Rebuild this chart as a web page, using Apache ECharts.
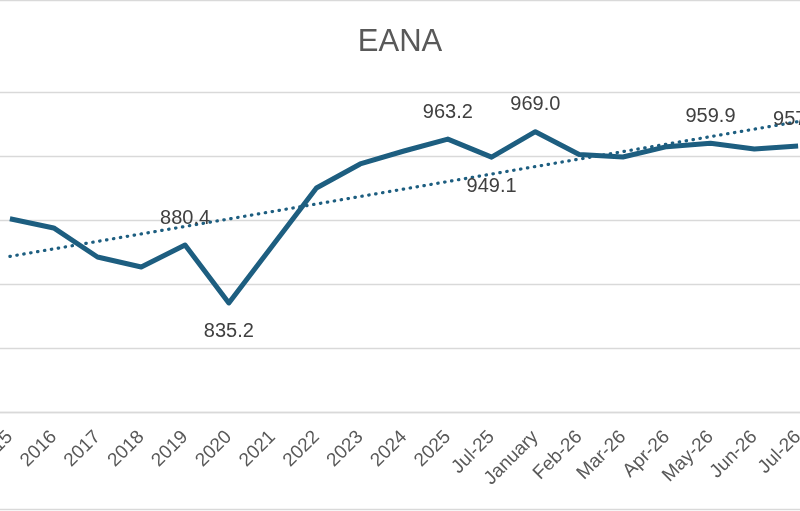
<!DOCTYPE html>
<html>
<head>
<meta charset="utf-8">
<title>EANA</title>
<script src="https://cdn.jsdelivr.net/npm/echarts@6/dist/echarts.min.js"></script>
<style>
  html, body { margin: 0; padding: 0; background: #fff; }
  #main { width: 800px; height: 511px; }
</style>
</head>
<body>
<div id="main"></div>
<script>
// categories on the x axis
var categories = ["2015", "2016", "2017", "2018", "2019", "2020", "2021", "2022", "2023", "2024",
    "2025", "Jul-25", "January", "Feb-26", "Mar-26", "Apr-26", "May-26", "Jun-26", "Jul-26"];

// EANA values
var values = [901.0, 893.8, 871.1, 863.3, 880.4, 835.2, 880.0, 925.0, 943.8, 953.9,
    963.2, 949.1, 969.0, 951.2, 949.2, 957.3, 959.9, 955.5, 957.8];

// which points get a value label, and where
var labelIndex = [4, 5, 10, 11, 12, 16, 18];
var labelPos = ["top", "bottom", "top", "bottom", "top", "top", "top"];

// y axis ticks
var yMin = 750, yMax = 1000, yStep = 50;

// linear trend, like the excel trendline
function trendOf(arr) {
    var n = arr.length, sx = 0, sy = 0, sxy = 0, sxx = 0;
    for (var i = 0; i < n; i++) {
        sx += i; sy += arr[i]; sxy += i * arr[i]; sxx += i * i;
    }
    var b = (n * sxy - sx * sy) / (n * sxx - sx * sx);
    var a = (sy - b * sx) / n;
    var out = [];
    for (var j = 0; j < n; j++) out.push(+(a + b * j).toFixed(2));
    return out;
}

var lineColor = "#1d5e80";

var seriesData = values.map(function (v, i) {
    var k = labelIndex.indexOf(i);
    if (k < 0) return v;
    return {
        value: v,
        label: {
            show: true,
            position: labelPos[k],
            distance: labelPos[k] == "top" ? 17 : 19
        }
    };
});

var chart = echarts.init(document.getElementById('main'));
chart.setOption({
    animation: false,
    title: {
        text: "EANA",
        left: "center",
        top: 22,
        textStyle: {
            fontFamily: "'Liberation Sans', Arial, sans-serif",
            fontSize: 31,
            fontWeight: "normal",
            color: "#595959"
        }
    },
    grid: { left: -12, right: -20, top: 92, bottom: 99, containLabel: false, outerBoundsMode: "none" },
    xAxis: {
        type: "category",
        data: categories,
        boundaryGap: true,
        axisLine: { lineStyle: { color: "#d9d9d9", width: 1.3 } },
        axisTick: { show: false },
        axisLabel: {
            rotate: 45,
            interval: 0,
            margin: 22,
            fontFamily: "'Liberation Sans', Arial, sans-serif",
            fontSize: 19,
            color: "#595959"
        }
    },
    yAxis: {
        type: "value",
        min: yMin,
        max: yMax,
        interval: yStep,
        axisLabel: { show: false },
        axisLine: { show: false },
        axisTick: { show: false },
        splitLine: { lineStyle: { color: "#d9d9d9", width: 1.3 } }
    },
    series: [
        {
            name: "EANA",
            type: "line",
            data: seriesData,
            symbol: "circle",
            symbolSize: 0,
            showSymbol: true,
            itemStyle: { color: lineColor },
            lineStyle: { color: lineColor, width: 5, join: "round" },
            label: {
                show: false,
                formatter: function (p) { return p.value.toFixed(1); },
                fontFamily: "'Liberation Sans', Arial, sans-serif",
                fontSize: 20,
                color: "#404040"
            },
            z: 3
        },
        {
            name: "Linear (EANA)",
            type: "line",
            data: trendOf(values),
            symbol: "none",
            silent: true,
            lineStyle: { color: lineColor, width: 3.2, type: [0.5, 6.5], cap: "round" },
            z: 2
        }
    ],
    graphic: [
        { type: "line", shape: { x1: 0, y1: 0.5, x2: 800, y2: 0.5 }, style: { stroke: "#d9d9d9", lineWidth: 1.3 } },
        { type: "line", shape: { x1: 0, y1: 509.5, x2: 800, y2: 509.5 }, style: { stroke: "#d9d9d9", lineWidth: 1.3 } }
    ]
});
</script>
</body>
</html>
